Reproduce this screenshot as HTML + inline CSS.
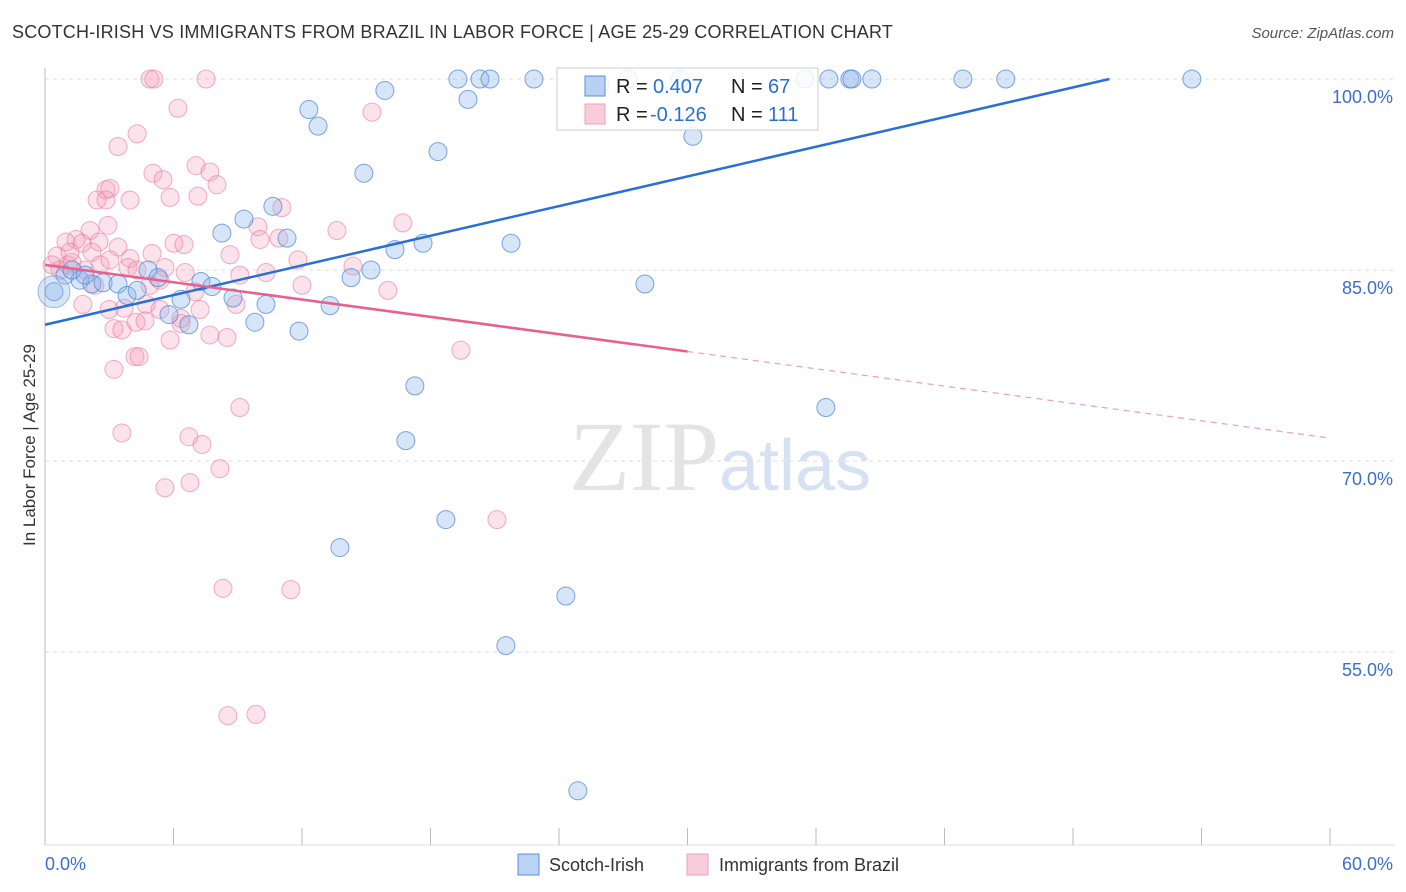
<!DOCTYPE html>
<html><head><meta charset="utf-8"><style>
body{margin:0;background:#fff;font-family:"Liberation Sans",sans-serif;}
#wrap{position:relative;width:1406px;height:892px;overflow:hidden;}
.t{position:absolute;white-space:nowrap;}
</style></head><body>
<div id="wrap">
<div class="t" style="left:12px;top:22px;font-size:18px;color:#333;letter-spacing:0.2px">SCOTCH-IRISH VS IMMIGRANTS FROM BRAZIL IN LABOR FORCE | AGE 25-29 CORRELATION CHART</div>
<div class="t" style="right:12px;top:25px;font-size:15px;color:#555;font-style:italic">Source: ZipAtlas.com</div>
<div class="t" style="left:-60px;top:446px;font-size:17px;color:#333;transform:rotate(-90deg);transform-origin:center;width:180px;text-align:center">In Labor Force | Age 25-29</div>
<svg id="svg" width="1406" height="892" style="position:absolute;left:0;top:0"></svg>
</div>
<script>
const blueX=[19.28,20.31,20.78,22.83,25.91,27.22,29.65,35.48,36.6,37.58,37.68,38.61,42.86,44.86,53.55,15.87,19.75,12.32,12.75,30.25,18.35,14.89,10.64,9.29,8.26,11.3,21.76,17.65,16.34,15.22,14.29,4.81,5.28,7.28,7.8,28.01,0.42,0.93,1.63,2.19,2.71,3.41,3.83,4.3,6.35,8.78,10.32,13.31,5.79,6.72,9.8,11.86,17.27,36.46,16.85,18.72,13.77,24.32,21.52,24.88,1.26,1.87];
const blueY=[100,100,100,100,99.5,100,100,100,100,100,100,100,100,100,100,99.1,98.4,97.6,96.3,95.5,94.3,92.6,90.0,89.0,87.9,87.5,87.1,87.1,86.6,85.0,84.4,85.0,84.4,84.1,83.7,83.9,83.3,84.6,84.2,83.9,84.0,83.9,83.0,83.4,82.7,82.8,82.3,82.2,81.5,80.7,80.9,80.2,75.9,74.2,71.6,65.4,63.2,59.4,55.5,44.1,85.0,84.6];
const pinkX=[4.9,5.09,7.52,6.21,15.27,4.3,3.41,5.04,7.05,7.7,5.51,8.03,2.85,3.03,2.43,2.85,3.97,5.84,7.14,11.06,2.94,9.94,16.71,13.63,2.1,1.45,2.52,0.98,1.73,6.02,3.41,2.19,5.0,10.92,0.56,3.97,0.33,1.07,2.57,3.87,4.3,5.6,6.54,11.81,10.32,14.38,8.92,12.0,16.01,7.0,6.35,4.72,3.69,2.99,1.77,5.84,7.7,8.5,3.22,3.59,4.25,4.67,6.35,4.2,4.39,3.22,19.42,9.1,3.59,6.72,7.33,8.17,6.77,5.6,21.1,8.31,11.48,8.54,9.85,0.7,1.26,1.87,1.17,2.33,3.03,4.9,5.37,7.24,5.37,8.64,9.1,6.49,10.04];
const pinkY=[100,100,100,97.7,97.4,95.7,94.7,92.6,93.2,92.7,92.1,91.7,91.3,91.4,90.5,90.5,90.5,90.7,90.8,89.9,88.5,88.4,88.7,88.1,88.1,87.4,87.2,87.2,87.1,87.1,86.8,86.4,86.3,87.5,86.1,85.9,85.4,85.4,85.4,85.2,85.0,85.2,84.8,85.8,84.8,85.3,82.3,83.8,83.4,83.3,80.8,82.3,82.0,81.9,82.3,79.5,79.9,79.7,80.4,80.3,80.9,81.0,81.2,78.2,78.2,77.2,78.7,74.2,72.2,71.9,71.3,69.4,68.3,67.9,65.4,60.0,59.9,50.0,50.1,85.0,85.6,85.0,86.4,83.8,85.8,83.8,84.2,81.9,81.9,86.2,84.6,87.0,87.4];
const blueLine=[[0,80.7],[49.7,100]];
const pinkLine=[[0,85.4],[30,78.6],[60,71.8]];
const yTicks=[100,85,70,55];
const yTickLabels=["100.0%","85.0%","70.0%","55.0%"];
const xTicks=[0,6,12,18,24,30,36,42,48,54,60];

const sx=v=>45+v*1285/60;
const sy=v=>79+(100-v)*191/15;
const svg=document.getElementById('svg');
const NS='http://www.w3.org/2000/svg';
function mk(tag,attrs,parent){const e=document.createElementNS(NS,tag);for(const k in attrs)e.setAttribute(k,attrs[k]);(parent||svg).appendChild(e);return e;}

yTicks.forEach((v,i)=>{
  const g=mk('line',{x1:45,x2:1395,y1:sy(v),y2:sy(v),stroke:'#ddd','stroke-dasharray':'4,4'});
  
  
  const t=mk('text',{x:1393,y:sy(v)+24,'text-anchor':'end','font-size':18,fill:'#3a6fd0','font-family':'Liberation Sans, sans-serif'});
  t.textContent=yTickLabels[i];
  
  
});
const ax=mk('line',{x1:45,x2:45,y1:68,y2:845,stroke:'#bbb'});


const bx=mk('line',{x1:45,x2:1395,y1:845,y2:845,stroke:'#ddd'});


xTicks.forEach(v=>{
  const l=mk('line',{x1:sx(v),x2:sx(v),y1:828,y2:845,stroke:'#bbb'});
  
  
});
const xl0=mk('text',{x:45,y:870,'font-size':18,fill:'#3a6fd0','font-family':'Liberation Sans, sans-serif'});xl0.textContent='0.0%';


const xl1=mk('text',{x:1393,y:870,'text-anchor':'end','font-size':18,fill:'#3a6fd0','font-family':'Liberation Sans, sans-serif'});xl1.textContent='60.0%';



const wm=mk('text',{x:720,y:490,'text-anchor':'middle','font-size':100,fill:'#e4e4e4','font-family':'Liberation Serif, serif'});
wm.innerHTML='ZIP<tspan fill="#d6e2f3" font-family="Liberation Sans, sans-serif" font-size="72">atlas</tspan>';



pinkX.forEach((x,i)=>{
  const c=mk('circle',{cx:sx(x),cy:sy(pinkY[i]),r:9,fill:'rgba(244,160,185,0.3)',stroke:'rgba(236,120,155,0.6)','stroke-width':1});
  
  
});
blueX.forEach((x,i)=>{
  const c=mk('circle',{cx:sx(x),cy:sy(blueY[i]),r:9,fill:'rgba(140,180,235,0.35)',stroke:'rgba(70,130,215,0.7)','stroke-width':1});
  
  
});
const big=mk('circle',{cx:sx(0.42),cy:sy(83.3),r:16,fill:'rgba(140,180,235,0.35)',stroke:'rgba(70,130,215,0.5)'});



const bl=mk('line',{x1:sx(blueLine[0][0]),y1:sy(blueLine[0][1]),x2:sx(blueLine[1][0]),y2:sy(blueLine[1][1]),stroke:'#2a6fd6','stroke-width':2.5});


const pl=mk('line',{x1:sx(pinkLine[0][0]),y1:sy(pinkLine[0][1]),x2:sx(pinkLine[1][0]),y2:sy(pinkLine[1][1]),stroke:'#e8608e','stroke-width':2.5});


const pd=mk('line',{x1:sx(pinkLine[1][0]),y1:sy(pinkLine[1][1]),x2:sx(pinkLine[2][0]),y2:sy(pinkLine[2][1]),stroke:'#e8a0b8','stroke-width':1.2,'stroke-dasharray':'6,5'});



// legend box
const lg=mk('g',{});


mk('rect',{x:557,y:68,width:261,height:62,fill:'rgba(255,255,255,0.85)',stroke:'#ccc'},lg);
mk('rect',{x:585,y:76,width:20,height:20,fill:'rgba(140,180,235,0.6)',stroke:'#5b8fd8'},lg);
mk('rect',{x:585,y:104,width:20,height:20,fill:'rgba(244,170,195,0.6)',stroke:'#eea0ba'},lg);
function lt(x,y,s,c){const t=mk('text',{x:x,y:y,'font-size':20,fill:c,'font-family':'Liberation Sans, sans-serif'},lg);t.textContent=s;return t;}
lt(616,93,'R =','#222');lt(653,93,'0.407','#2a6fd6');lt(731,93,'N =','#222');lt(768,93,'67','#2a6fd6');
lt(616,121,'R =','#222');lt(650,121,'-0.126','#2a6fd6');lt(731,121,'N =','#222');lt(768,121,'111','#2a6fd6');

// bottom legend
const bl2=mk('g',{});


mk('rect',{x:518,y:854,width:21,height:21,fill:'rgba(140,180,235,0.6)',stroke:'#5b8fd8'},bl2);
mk('rect',{x:687,y:854,width:21,height:21,fill:'rgba(244,170,195,0.6)',stroke:'#eea0ba'},bl2);
const s1=mk('text',{x:549,y:871,'font-size':18,fill:'#333','font-family':'Liberation Sans, sans-serif'},bl2);s1.textContent='Scotch-Irish';
const s2=mk('text',{x:719,y:871,'font-size':18,fill:'#333','font-family':'Liberation Sans, sans-serif'},bl2);s2.textContent='Immigrants from Brazil';
</script>
</body></html>
